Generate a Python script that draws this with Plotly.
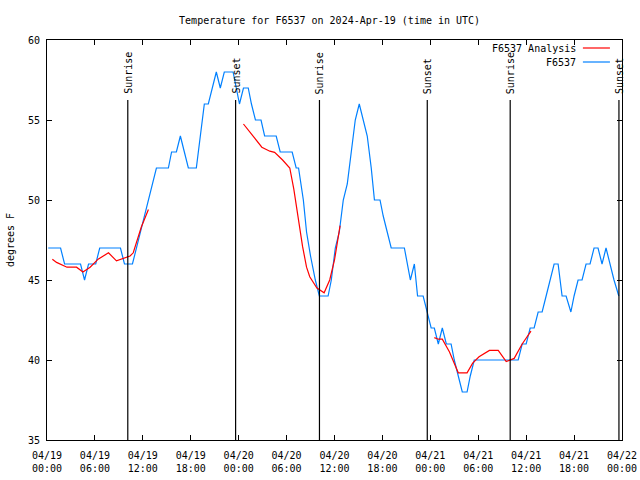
import plotly.graph_objects as go
import pandas as pd

# ---- data (hours after 2024-04-19 00:00 UTC) ----
obs_hours = [0.15, 1.7, 2.2, 4.2, 4.7, 5.2, 6.1, 6.6, 9.2, 9.7, 10.7, 11.2, 11.7, 12.2, 12.7, 13.2, 13.7,
             15.2, 15.6, 16.2, 16.7, 17.2, 17.7, 18.7, 19.2, 19.7, 20.2, 20.7, 21.2, 21.7, 22.2, 23.3,
             23.7, 24.1, 24.6, 25.2, 25.6, 26.1, 26.8, 27.25, 28.7, 29.2, 30.7, 31.2, 31.5, 31.8,
             32.1, 32.5, 33.0, 33.6, 34.1, 35.2, 35.6, 36.1, 36.6, 37.1, 37.6, 38.1, 38.6, 39.1,
             39.6, 40.1, 40.6, 41.0, 41.7, 42.1, 42.6, 43.1, 44.75, 45.1, 45.5, 46.0, 46.4, 47.1,
             47.6, 48.1, 48.5, 49.0, 49.5, 50.0, 50.6, 51.0, 51.5, 52.0, 52.6, 53.0, 53.5, 59.0,
             59.5, 60.0, 60.5, 61.0, 61.5, 62.0, 62.5, 63.0, 63.5, 64.0, 64.5, 65.0, 65.6, 66.0,
             66.5, 67.0, 67.5, 68.0, 68.5, 69.0, 69.5, 70.0, 70.5, 71.0, 71.6]
obs_temps = [47, 47, 46, 46, 45, 46, 46, 47, 47, 46, 46, 47, 48, 49, 50, 51, 52,
             52, 53, 53, 54, 53, 52, 52, 54, 56, 56, 57, 58, 57, 58, 58,
             57, 56, 57, 57, 56, 55, 55, 54, 54, 53, 53, 52, 52, 51,
             50, 48, 46.5, 45, 44, 44, 45, 47, 48, 50, 51, 53, 55, 56,
             55, 54, 52, 50, 50, 49, 48, 47, 47, 46, 45, 46, 44, 44,
             43, 42, 42, 41, 42, 41, 41, 40, 39, 38, 38, 39, 40, 40,
             41, 41, 42, 42, 43, 43, 44, 45, 46, 46, 44, 44, 43, 44,
             45, 45, 46, 46, 47, 47, 46, 47, 46, 45, 44]

ana_hours = [0.67, 1.2, 2.5, 3.7, 4.5, 5.4, 6.4, 7.7, 8.7, 9.5, 10.4, 10.8, 11.2, 11.8, 12.7, None,
             24.6, 25.3, 26.9, 27.9, 28.5, 29.5, 30.4, 30.9, 31.4, 32.0, 32.5, 32.9, 33.8, 34.7,
             35.4, 36.0, 36.7, None,
             48.5, 49.0, 49.5, 50.4, 51.5, 52.6, 53.3, 54.1, 55.4, 56.5, 57.5, 58.0, 58.5, 59.5, 60.6]
ana_temps = [46.3, 46.1, 45.8, 45.8, 45.5, 45.8, 46.3, 46.7, 46.2, 46.35, 46.5, 46.7, 47.3, 48.3, 49.4, None,
             54.75, 54.3, 53.3, 53.05, 52.98, 52.5, 52.0, 50.7, 49.0, 47.1, 45.8, 45.2, 44.5, 44.2,
             45.0, 46.25, 48.4, None,
             41.4, 41.3, 41.3, 40.5, 39.2, 39.2, 39.8, 40.2, 40.6, 40.6, 39.9, 40.0, 40.1, 41.0, 41.8]

sun_times = ["2024-04-19 10:07", "2024-04-19 23:37", "2024-04-20 10:07",
             "2024-04-20 23:37", "2024-04-21 10:00", "2024-04-21 23:37"]
sun_labels = ["Sunrise", "Sunset", "Sunrise", "Sunset", "Sunrise", "Sunset"]

tick_times = pd.date_range("2024-04-19 00:00", "2024-04-22 00:00", freq="6h")
tick_text = [t.strftime("%m/%d") + "<br>" + t.strftime("%H:%M") for t in tick_times]
y_ticks = [35, 40, 45, 50, 55, 60]

base = pd.Timestamp("2024-04-19 00:00")
to_dt = lambda hs: [None if h is None else base + pd.Timedelta(hours=h) for h in hs]

FONT = "DejaVu Sans Mono"
BLUE = "#0080ff"
RED = "#ff0000"

fig = go.Figure()
fig.add_trace(go.Scatter(x=to_dt(obs_hours), y=obs_temps, mode="lines",
                         line=dict(color=BLUE, width=1.2), name="F6537", showlegend=False))
fig.add_trace(go.Scatter(x=to_dt(ana_hours), y=ana_temps, mode="lines", connectgaps=False,
                         line=dict(color=RED, width=1.2), name="F6537 Analysis", showlegend=False))

for t, lab in zip(sun_times, sun_labels):
    fig.add_shape(type="line", xref="x", yref="paper", x0=t, x1=t, y0=0, y1=0.85,
                  line=dict(color="black", width=1.2))
    fig.add_annotation(x=t, xref="x", y=0.86, yref="paper", text=lab, textangle=-90,
                       showarrow=False, xanchor="center", yanchor="bottom",
                       font=dict(family=FONT, size=10, color="black"))

# legend drawn gnuplot-style (text right, sample line on the right)
for name, color, yp in [("F6537 Analysis", RED, 0.98), ("F6537", BLUE, 0.945)]:
    fig.add_annotation(x=0.923, xref="paper", y=yp, yref="paper", text=name, showarrow=False,
                       xanchor="right", yanchor="middle", font=dict(family=FONT, size=10, color="black"))
    fig.add_shape(type="line", xref="paper", yref="paper", x0=0.932, x1=0.979, y0=yp, y1=yp,
                  line=dict(color=color, width=1.2))

fig.update_layout(
    width=640, height=480,
    margin=dict(l=47, r=18, t=40, b=40, autoexpand=False),
    paper_bgcolor="white", plot_bgcolor="white",
    font=dict(family=FONT, size=10, color="black"),
    title=dict(text="Temperature for F6537 on 2024-Apr-19 (time in UTC)", x=0.515, xanchor="center",
               y=0.958, yanchor="middle", font=dict(family=FONT, size=10, color="black")),
    showlegend=False,
)
fig.update_xaxes(range=[tick_times[0], tick_times[-1]], tickvals=list(tick_times), ticktext=tick_text,
                 automargin=False, ticklabelstandoff=6,
                 showgrid=False, zeroline=False, showline=True, linecolor="black", linewidth=1,
                 mirror="ticks", ticks="inside", ticklen=5, tickcolor="black", tickangle=0,
                 tickfont=dict(family=FONT, size=10, color="black"))
fig.update_yaxes(range=[35, 60], tickvals=y_ticks, showgrid=False, zeroline=False, showline=True,
                 automargin=False, ticklabelstandoff=4,
                 linecolor="black", linewidth=1, mirror="ticks", ticks="inside", ticklen=5,
                 tickcolor="black", tickfont=dict(family=FONT, size=10, color="black"),
                 title=dict(text="degrees F", standoff=11, font=dict(family=FONT, size=10, color="black")))

fig.write_html("out.html", config={"displayModeBar": False},
               post_script="document.body.style.margin='0px';")
